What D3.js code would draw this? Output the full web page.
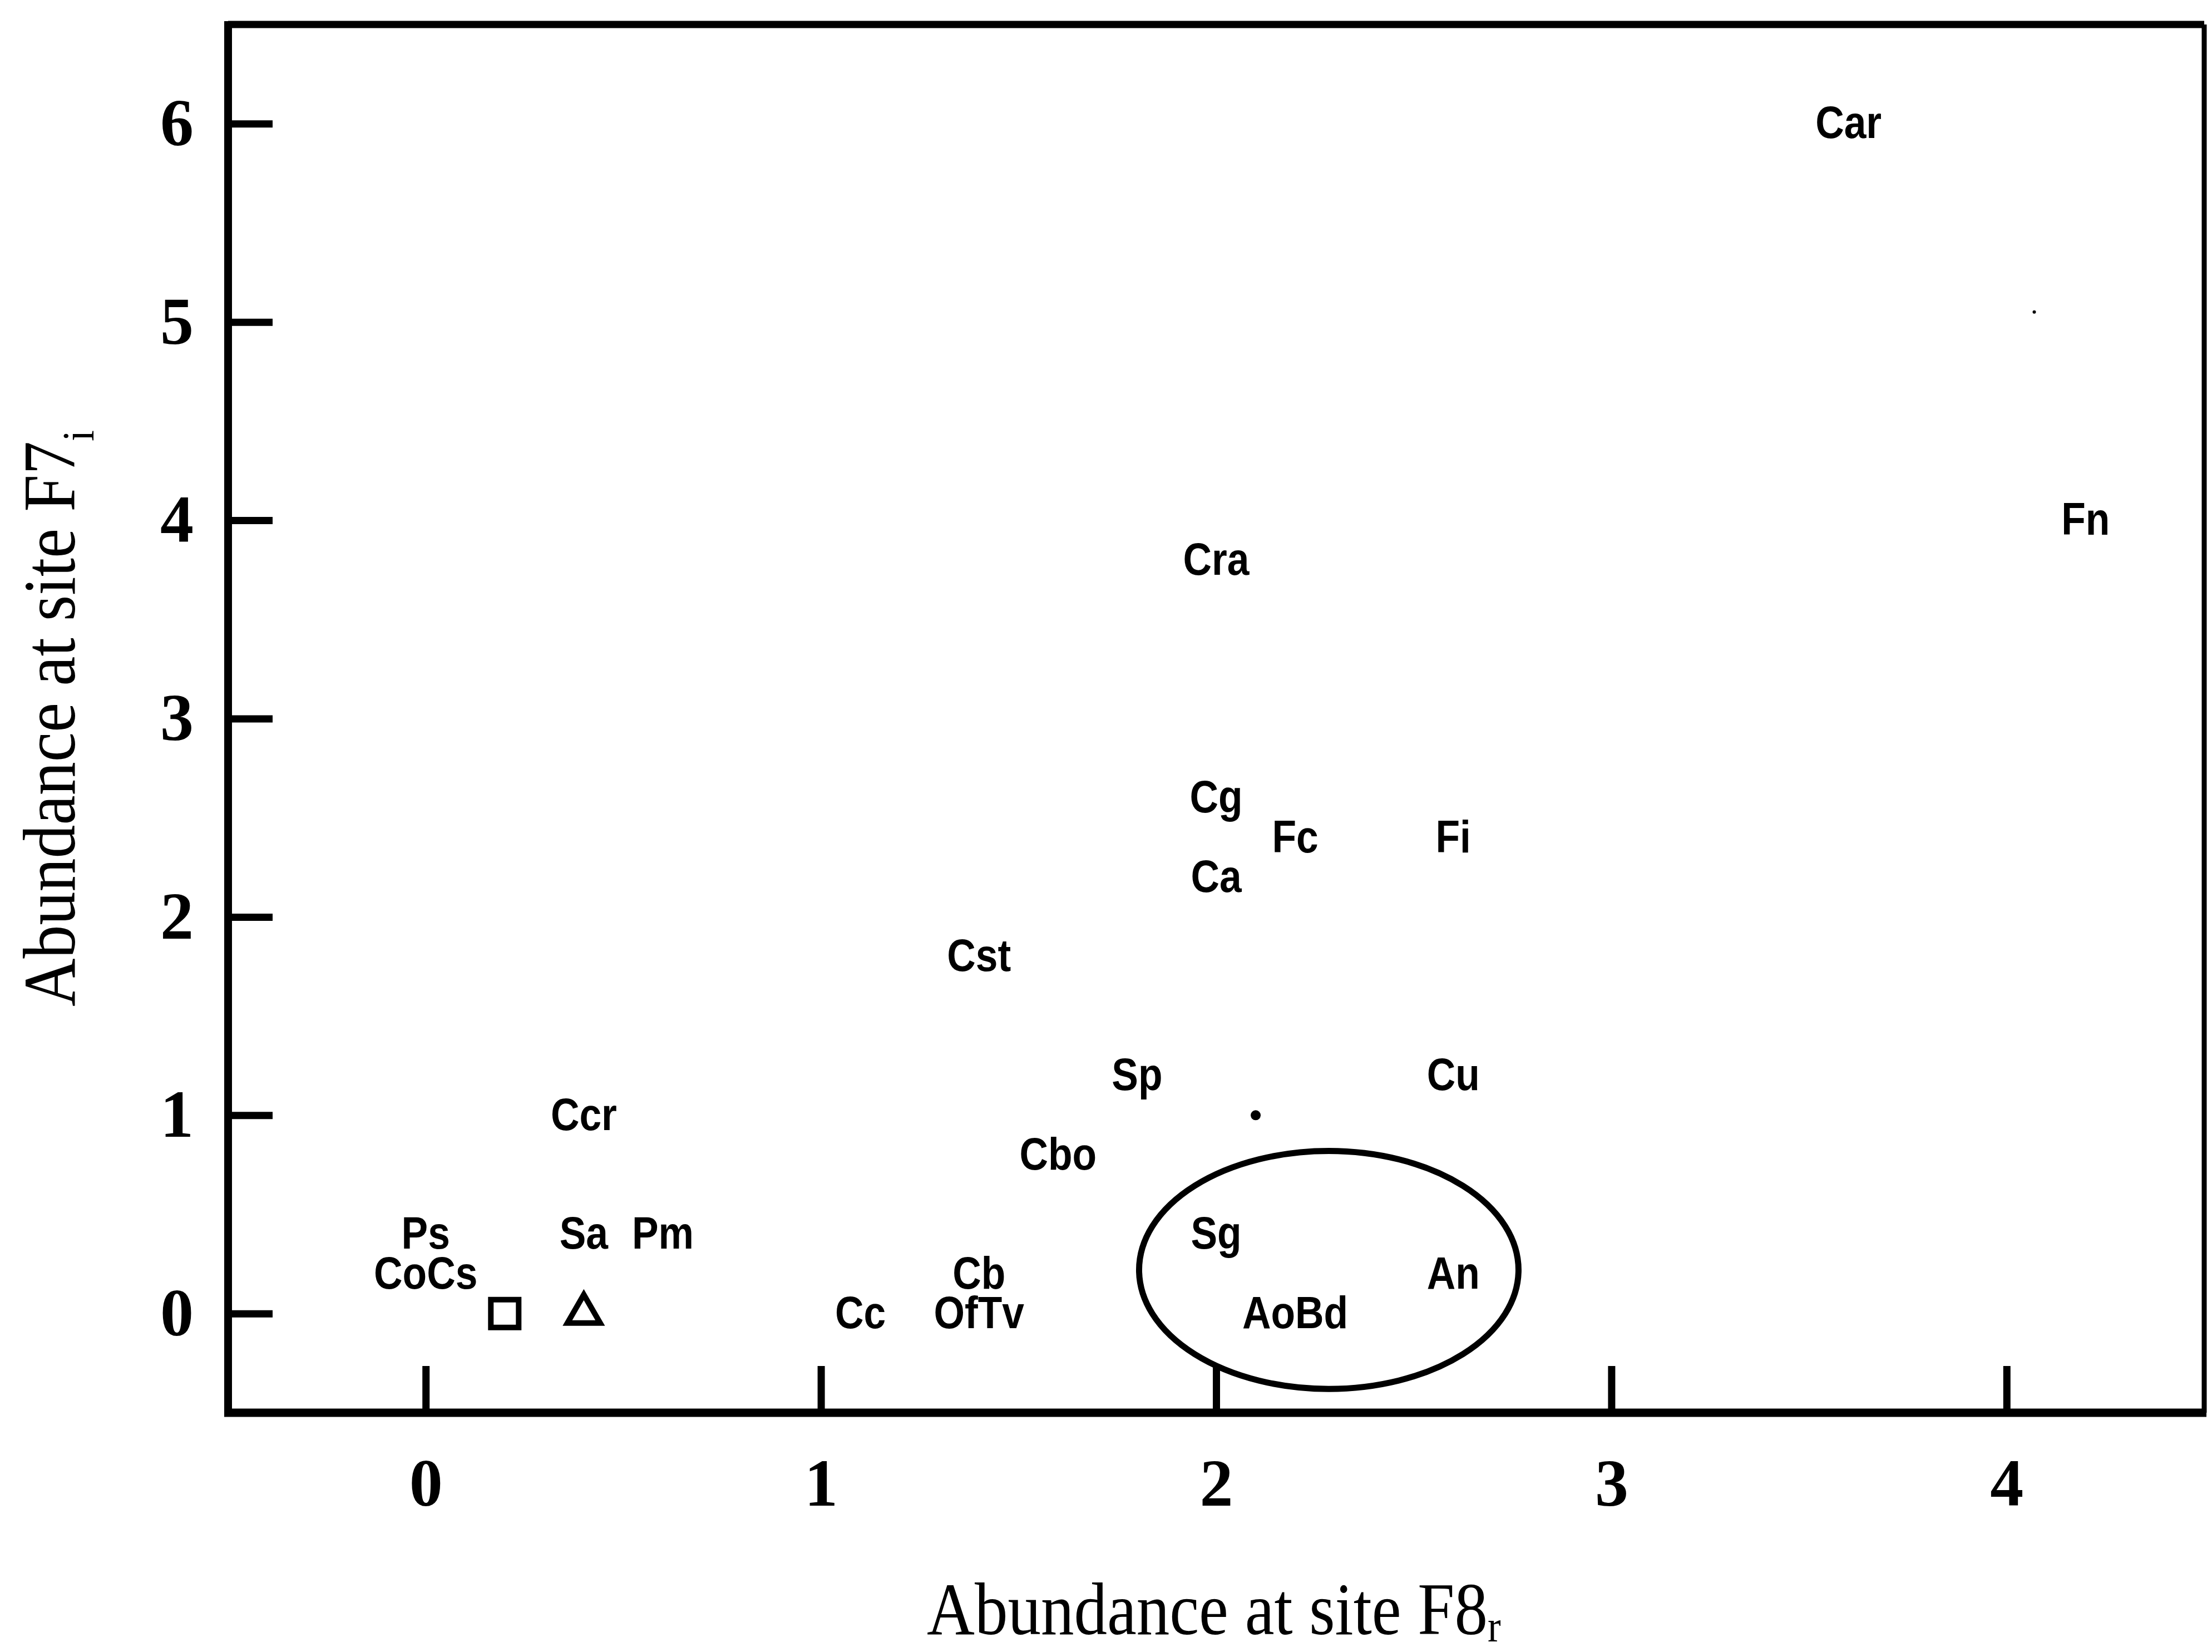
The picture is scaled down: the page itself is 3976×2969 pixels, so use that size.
<!DOCTYPE html>
<html>
<head>
<meta charset="utf-8">
<script src="https://cdn.jsdelivr.net/npm/d3@7"></script>
<style>
  html, body { margin: 0; padding: 0; background: #fff; }
  svg { display: block; }
</style>
</head>
<body>
<script>
// ---- data ----
const speciesLabels = ["Car","Fn","Cra","Cg","Fc","Fi","Ca","Cst","Sp","Cu","Ccr","Cbo","Ps","CoCs","Sa","Pm","Cb","Cc","OfTv","Sg","An","AoBd"];
const abundanceF8 = [3.6, 4.2, 2.0, 2.0, 2.2, 2.6, 2.0, 1.4, 1.8, 2.6, 0.4, 1.6, 0.0, 0.0, 0.4, 0.6, 1.4, 1.1, 1.4, 2.0, 2.6, 2.2];
const abundanceF7 = [6.0, 4.0, 3.8, 2.6, 2.4, 2.4, 2.2, 1.8, 1.2, 1.2, 1.0, 0.8, 0.4, 0.2, 0.4, 0.4, 0.2, 0.0, 0.0, 0.4, 0.2, 0.0];
const symbolNames = ["square", "triangle"];
const symbolX = [0.2, 0.4];
const symbolY = [0.0, 0.0];
const dotX = [2.1, 4.07];
const dotY = [1.0, 5.05];
const ellipseCenter = [2.285, 0.22];
const ellipseRadii = [0.48, 0.60];
const xTickValues = [0, 1, 2, 3, 4];
const yTickValues = [0, 1, 2, 3, 4, 5, 6];
const xDomain = [-0.5, 4.5];
const yDomain = [-0.5, 6.5];
const xTitle = "Abundance at site F8";
const xTitleSub = "r";
const yTitle = "Abundance at site F7";
const yTitleSub = "i";

(function () {
// ---- layout ----
const W = 3976, H = 2969;
const mLeft = 410, mRight = 3962, mTop = 44, mBottom = 2539;

const svg = d3.select("body").append("svg").attr("width", W).attr("height", H);

const x = d3.scaleLinear().domain(xDomain).range([mLeft, mRight]);
const y = d3.scaleLinear().domain(yDomain).range([mBottom, mTop]);

// frame
const frame = svg.append("g").attr("stroke", "#000").attr("fill", "none");
frame.append("line").attr("x1", mLeft).attr("x2", mRight).attr("y1", mTop).attr("y2", mTop).attr("stroke-width", 13);
frame.append("line").attr("x1", mRight).attr("x2", mRight).attr("y1", mTop).attr("y2", mBottom).attr("stroke-width", 9);
frame.append("line").attr("x1", mLeft).attr("x2", mLeft).attr("y1", mTop - 6).attr("y2", mBottom + 7).attr("stroke-width", 14);
frame.append("line").attr("x1", mLeft - 7).attr("x2", mRight + 4).attr("y1", mBottom).attr("y2", mBottom).attr("stroke-width", 15);

// axes
const xAxis = d3.axisBottom(x).tickValues(xTickValues).tickFormat(d3.format("d"))
  .tickSizeInner(-84).tickSizeOuter(0).tickPadding(82);
const yAxis = d3.axisLeft(y).tickValues(yTickValues).tickFormat(d3.format("d"))
  .tickSizeInner(-80).tickSizeOuter(0).tickPadding(62);

const gx = svg.append("g").attr("transform", `translate(0,${mBottom})`).call(xAxis);
const gy = svg.append("g").attr("transform", `translate(${mLeft},0)`).call(yAxis);
[gx, gy].forEach(g => {
  g.select(".domain").remove();
  g.selectAll(".tick line").attr("stroke", "#000").attr("stroke-width", 13);
  g.selectAll(".tick text")
    .attr("fill", "#000")
    .attr("font-family", "'Liberation Serif', 'Times New Roman', serif")
    .attr("font-weight", "bold")
    .attr("font-size", 120);
});

// axis titles (condensed serif, with subscript)
const serif = "'Liberation Serif', 'Times New Roman', serif";
function title(g, main, sub, targetLen, subDy) {
  const inner = g.append("g");
  const t = inner.append("text").attr("font-family", serif).attr("font-size", 134).attr("fill", "#000");
  const m = t.append("tspan").text(main);
  t.append("tspan").attr("font-size", 80).attr("dy", subDy).text(sub);
  const len = m.node().getComputedTextLength();
  inner.attr("transform", `scale(${targetLen / len},1)`);
}
title(svg.append("g").attr("transform", "translate(1666,2937)"), xTitle, xTitleSub, 1008, 13);
title(svg.append("g").attr("transform", "translate(134,1809) rotate(-90)"), yTitle, yTitleSub, 1016, 34);

// species labels (condensed bold sans)
const pts = speciesLabels.map((d, i) => ({ label: d, x: abundanceF8[i], y: abundanceF7[i] }));
const lab = svg.append("g").selectAll("text").data(pts).join("text")
  .attr("x", d => x(d.x))
  .attr("y", d => y(d.y))
  .attr("dy", "0.32em")
  .attr("text-anchor", "middle")
  .attr("font-family", "'Liberation Sans Narrow', 'Arial Narrow', 'Liberation Sans', Arial, sans-serif")
  .attr("font-weight", "bold")
  .attr("font-size", 82)
  .attr("fill", "#000")
  .text(d => d.label);
lab.each(function () {
  const len = this.getComputedTextLength();
  d3.select(this).attr("textLength", len * 0.87).attr("lengthAdjust", "spacingAndGlyphs");
});

// open symbols
const symTypes = { square: d3.symbolSquare, triangle: d3.symbolTriangle };
const symSizes = { square: 2500, triangle: 1500 };
svg.append("g").selectAll("path").data(symbolNames).join("path")
  .attr("transform", (d, i) => `translate(${x(symbolX[i])},${y(symbolY[i])})`)
  .attr("d", d => d3.symbol().type(symTypes[d]).size(symSizes[d])())
  .attr("fill", "none").attr("stroke", "#000").attr("stroke-width", 10)
  .attr("stroke-linejoin", "miter");

// small dots
const dotR = [9, 3];
svg.append("g").selectAll("circle").data(dotX).join("circle")
  .attr("cx", (d, i) => x(d)).attr("cy", (d, i) => y(dotY[i]))
  .attr("r", (d, i) => dotR[i]).attr("fill", "#000");

// ellipse enclosing group
svg.append("ellipse")
  .attr("cx", x(ellipseCenter[0]))
  .attr("cy", y(ellipseCenter[1]))
  .attr("rx", x(ellipseCenter[0] + ellipseRadii[0]) - x(ellipseCenter[0]))
  .attr("ry", y(ellipseCenter[1]) - y(ellipseCenter[1] + ellipseRadii[1]))
  .attr("fill", "none").attr("stroke", "#000").attr("stroke-width", 11);
})();
</script>
</body>
</html>
